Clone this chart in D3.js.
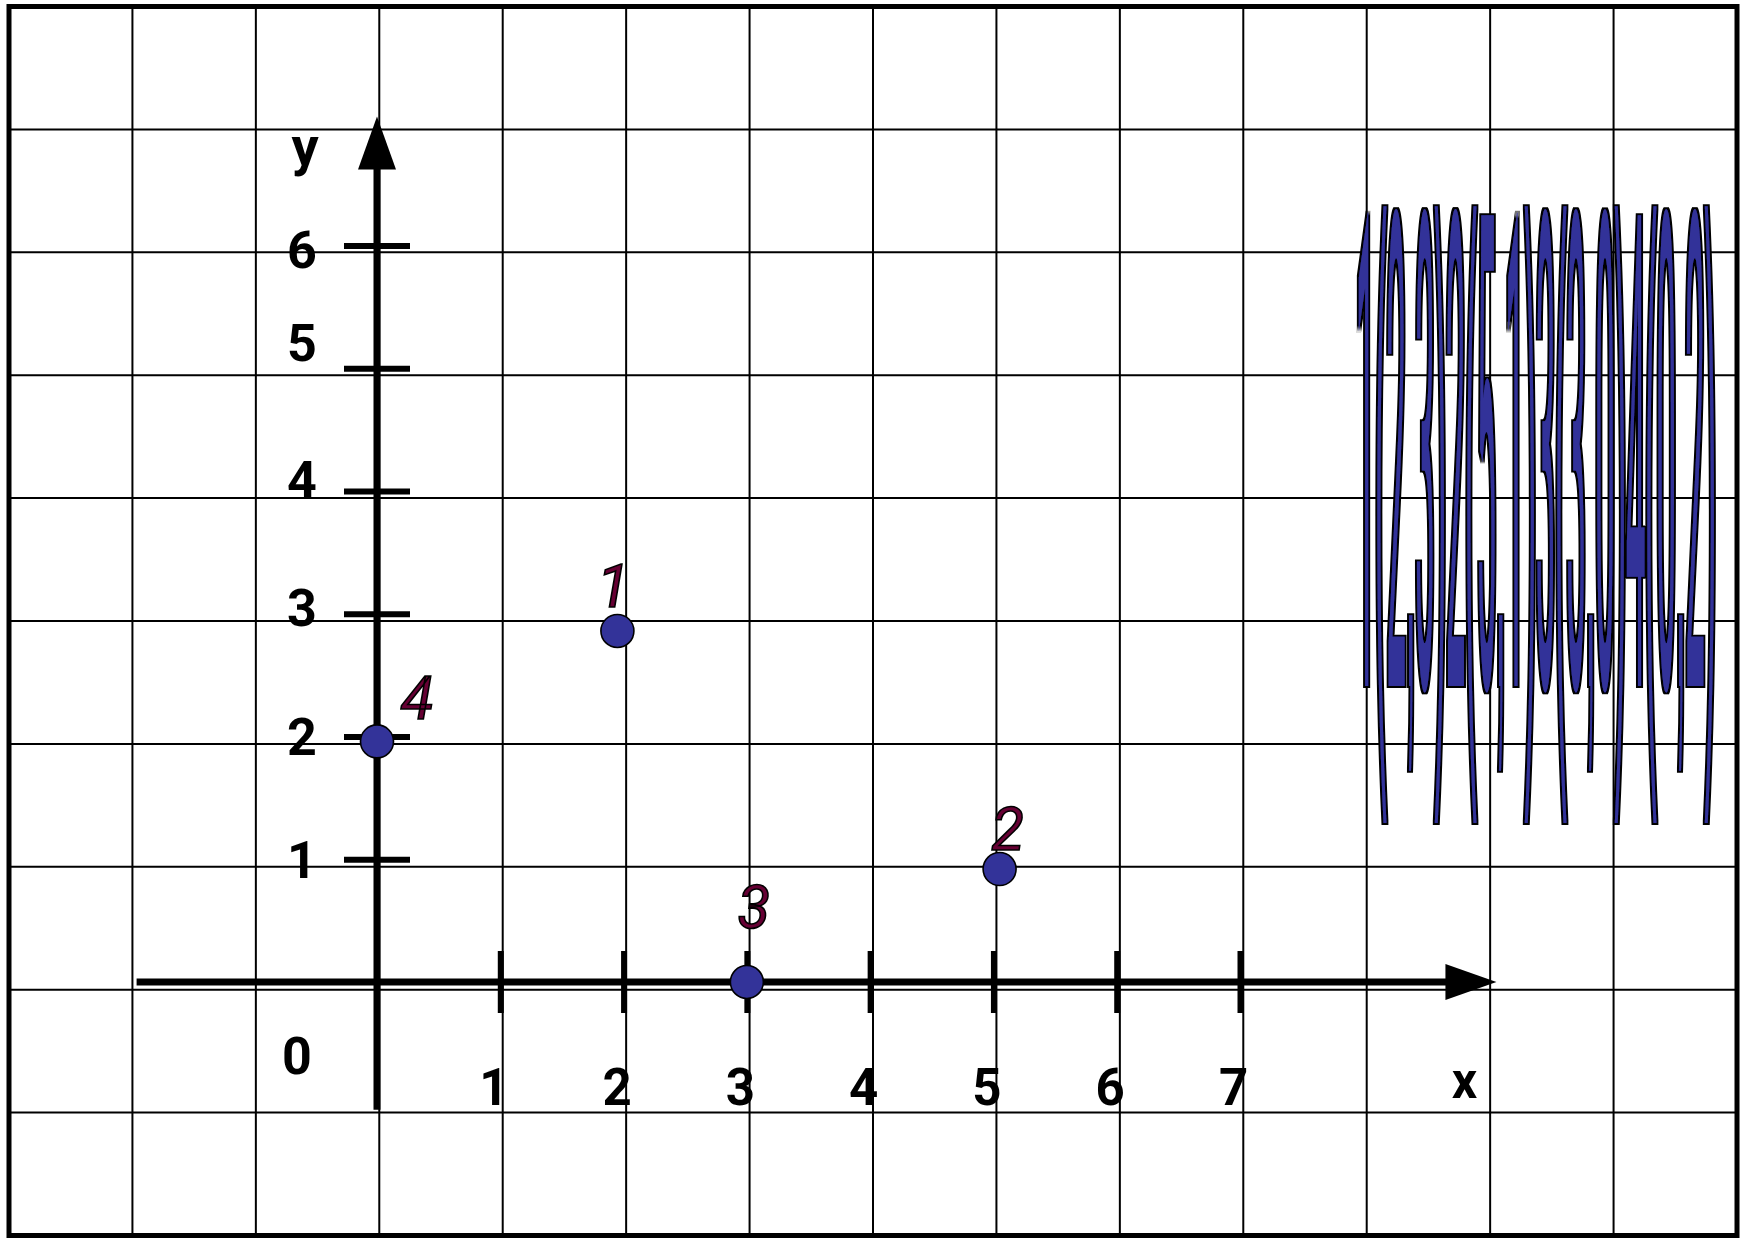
<!DOCTYPE html>
<html><head><meta charset="utf-8">
<script src="https://cdn.jsdelivr.net/npm/d3@7"></script>
<style>html,body{margin:0;padding:0;background:#fff;} svg{display:block;}</style>
</head><body>
<script>
// ---- data ----
const xTicks = [1, 2, 3, 4, 5, 6, 7];
const yTicks = [1, 2, 3, 4, 5, 6];
const pointIds = ["1", "2", "3", "4"];
const pointX = [1.95, 5.05, 3, 0];
const pointY = [2.86, 0.92, 0, 1.96];
const bannerText = "1(2,3)2(5,1)3(3,0)4(0,2)";
const originLabel = "0";
const xAxisName = "x";
const yAxisName = "y";

// ---- layout ----
const W = 1750, H = 1239;
const svg = d3.select("body").append("svg").attr("width", W).attr("height", H);
svg.append("rect").attr("width", W).attr("height", H).attr("fill", "#fff");

const sansFont = "Roboto, Liberation Sans, Arial, sans-serif";
const arialFont = "Liberation Sans, Arial, sans-serif";

// outline filter for stretched text
const defs = svg.append("defs");
const flt = defs.append("filter").attr("id", "outline")
  .attr("filterUnits", "userSpaceOnUse").attr("x", 1300).attr("y", 120).attr("width", 450).attr("height", 800);
flt.append("feMorphology").attr("in", "SourceAlpha").attr("operator", "dilate").attr("radius", 1.8).attr("result", "d");
flt.append("feFlood").attr("flood-color", "#000").attr("result", "k");
flt.append("feComposite").attr("in", "k").attr("in2", "d").attr("operator", "in").attr("result", "o");
const fm = flt.append("feMerge");
fm.append("feMergeNode").attr("in", "o");
fm.append("feMergeNode").attr("in", "SourceGraphic");

// background grid (14 x 10 cells)
const gx = d3.scaleLinear().domain([0, 14]).range([9, 1737]);
const gy = d3.scaleLinear().domain([0, 10]).range([6.5, 1235.5]);
const grid = svg.append("g").attr("stroke", "#000").attr("stroke-width", 2);
grid.selectAll("line.v").data(d3.range(1, 14)).join("line").attr("class", "v")
  .attr("x1", d => gx(d)).attr("x2", d => gx(d)).attr("y1", gy(0)).attr("y2", gy(10));
grid.selectAll("line.h").data(d3.range(1, 10)).join("line").attr("class", "h")
  .attr("y1", d => gy(d)).attr("y2", d => gy(d)).attr("x1", gx(0)).attr("x2", gx(14));
svg.append("rect").attr("x", gx(0)).attr("y", gy(0))
  .attr("width", gx(14) - gx(0)).attr("height", gy(10) - gy(0))
  .attr("fill", "none").attr("stroke", "#000").attr("stroke-width", 5);

// coordinate scales
const x = d3.scaleLinear().domain([0, 7]).range([377, 1240]);
const y = d3.scaleLinear().domain([0, 6]).range([982, 245.5]);

// main axis lines with arrows
const xExt = [-1.95, 9.08], yExt = [-1.04, 7.05];
const ax = svg.append("g");
ax.append("line").attr("x1", x(xExt[0])).attr("x2", x(xExt[1]) - 40)
  .attr("y1", y(0)).attr("y2", y(0)).attr("stroke", "#000").attr("stroke-width", 7);
ax.append("path").attr("fill", "#000")
  .attr("d", `M${x(xExt[1])},${y(0)} L${x(xExt[1]) - 51},${y(0) - 18} L${x(xExt[1]) - 51},${y(0) + 18} Z`);
ax.append("line").attr("x1", x(0)).attr("x2", x(0))
  .attr("y1", y(yExt[0])).attr("y2", y(yExt[1]) + 40).attr("stroke", "#000").attr("stroke-width", 7);
ax.append("path").attr("fill", "#000")
  .attr("d", `M${x(0)},${y(yExt[1])} L${x(0) - 19},${y(yExt[1]) + 53} L${x(0) + 19},${y(yExt[1]) + 53} Z`);

// x ticks via d3 axis
const xAxisG = svg.append("g").attr("transform", `translate(0,${y(0) - 31})`)
  .call(d3.axisBottom(x).tickValues(xTicks).tickSizeInner(62).tickSizeOuter(0).tickFormat(d3.format("d")));
xAxisG.select(".domain").remove();
xAxisG.selectAll(".tick line").attr("stroke", "#000").attr("stroke-width", 6);
xAxisG.selectAll(".tick text").attr("y", 154).attr("dy", 0).attr("dx", -7)
  .attr("fill", "#000").style("font-family", sansFont).style("font-weight", "bold").style("font-size", "51px");

// y ticks via d3 axis
const yNudge = {6: 4, 5: -26, 4: -12, 3: -6};
const yAxisG = svg.append("g").attr("transform", `translate(${x(0) - 33},0)`)
  .call(d3.axisRight(y).tickValues(yTicks).tickSizeInner(66).tickSizeOuter(0).tickFormat(d3.format("d")));
yAxisG.select(".domain").remove();
yAxisG.selectAll(".tick line").attr("stroke", "#000").attr("stroke-width", 6);
yAxisG.selectAll(".tick text").attr("x", -42).attr("dy", 0)
  .attr("y", d => 18 + (yNudge[d] || 0))
  .attr("text-anchor", "middle")
  .attr("fill", "#000").style("font-family", sansFont).style("font-weight", "bold").style("font-size", "52px");

// axis names and origin
const lab = svg.append("g").attr("fill", "#000").style("font-family", sansFont).style("font-weight", "bold");
lab.append("text").attr("x", x(0) - 80).attr("y", y(0) + 92).attr("text-anchor", "middle")
  .style("font-size", "52px").text(originLabel);
lab.append("text").attr("x", x(xExt[1]) - 32).attr("y", y(0) + 116).attr("text-anchor", "middle")
  .style("font-size", "50px").text(xAxisName);
lab.append("text").attr("x", x(0) - 72).attr("y", y(yExt[1]) + 48).attr("text-anchor", "middle")
  .style("font-size", "54px").text(yAxisName);

// points
const pts = pointIds.map((id, i) => ({id, x: pointX[i], y: pointY[i]}));
svg.append("g").selectAll("circle").data(pts).join("circle")
  .attr("cx", d => x(d.x)).attr("cy", d => y(d.y)).attr("r", 16.5)
  .attr("fill", "#333399").attr("stroke", "#000").attr("stroke-width", 1.6);

// point labels
const labelOff = {"1": [-4, -24], "2": [8, -19], "3": [7, -54], "4": [40, -22]};
svg.append("g").selectAll("text").data(pts).join("text")
  .attr("x", d => x(d.x) + labelOff[d.id][0]).attr("y", d => y(d.y) + labelOff[d.id][1])
  .attr("text-anchor", "middle")
  .attr("fill", "#660033").attr("stroke", "#000").attr("stroke-width", 1.6)
  .style("font-family", sansFont).style("font-style", "italic")
  .style("font-size", "60px").text(d => d.id);

// stretched banner text (outline via filter in screen space)
const bannerOuter = svg.append("g").attr("filter", "url(#outline)");
const bannerG = bannerOuter.append("g");
const bt = bannerG.append("text")
  .attr("fill", "#333399")
  .style("font-size", "662px");
bt.selectAll("tspan").data(bannerText.split("")).join("tspan")
  .style("font-family", c => /[0-9]/.test(c) ? sansFont : arialFont)
  .text(c => c);
const natural = bt.node().getComputedTextLength();
bannerG.attr("transform", `translate(1356,686) scale(${360 / natural},1)`);
</script>
</body></html>
